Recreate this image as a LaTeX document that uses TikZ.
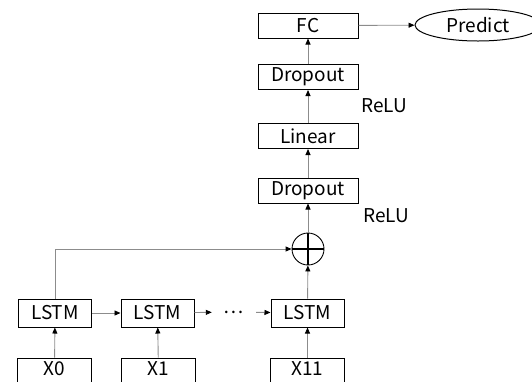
\documentclass[tikz,border=0pt]{standalone}
\usepackage{fontspec}
\setmainfont{Noto Sans CJK JP}
\usetikzlibrary{arrows.meta,shapes.geometric}
\begin{document}
\begin{tikzpicture}[x=1pt,y=-1pt,
  font=\fontsize{19}{21}\selectfont,
  box/.style={draw=black,line width=1pt,minimum width=100pt,minimum height=25pt,inner sep=0pt},
  lbox/.style={draw=black,line width=1pt,minimum width=73pt,minimum height=28pt,inner sep=0pt},
  xbox/.style={draw=black,line width=1pt,minimum width=74pt,minimum height=30pt,inner sep=0pt,text height=14pt,text depth=10pt},
  arr/.style={draw={rgb,255:red,140;green,140;blue,140},line width=0.9pt,-{Triangle[length=6pt,width=5pt,color=black]}},
  lbl/.style={anchor=west,inner sep=0pt}]
\path[use as bounding box,clip] (0,0) rectangle (532,381);
\node[box] (fc) at (308,25.5) {FC};
\node[draw=black,line width=1pt,ellipse,minimum width=126pt,minimum height=32pt,inner sep=0pt] (pred) at (478,25) {Predict};
\node[box] (d1) at (308,77) {Dropout};
\node[box] (lin) at (308,136) {Linear};
\node[box] (d2) at (308,190.5) {Dropout};
\node[lbl] (r1) at (361,106) {ReLU};
\node[lbl] (r2) at (363,216) {ReLU};
\node[circle,draw=black,line width=0.9pt,minimum size=32pt,inner sep=0pt] (plus) at (308,249) {};
\draw[line width=2.4pt] (plus.north) -- (plus.south) (plus.west) -- (plus.east);
\node[lbox] (l0) at (55,313) {LSTM};
\node[lbox] (l1) at (157.5,313) {LSTM};
\node[lbox] (l2) at (307.5,313) {LSTM};
\node[inner sep=0pt,minimum width=44pt] (dots) at (234,312) {⋯};
\node[xbox] (x0) at (54.5,373) {X0};
\node[xbox] (x1) at (158.5,373) {X1};
\node[xbox] (x11) at (307.5,373) {X11};
\draw[arr] (x0) -- (l0);
\draw[arr] (x1) -- (l1);
\draw[arr] (x11) -- (l2);
\draw[arr] (l0) -- (l1);
\draw[arr] (l1) -- (dots);
\draw[arr] (dots) -- (l2);
\draw[arr] (l2) -- (plus);
\draw[arr] (l0.north) |- (plus.west);
\draw[arr] (plus) -- (d2);
\draw[arr] (d2) -- (lin);
\draw[arr] (lin) -- (d1);
\draw[arr] (d1) -- (fc);
\draw[arr] (fc) -- (pred);
\end{tikzpicture}
\end{document}
